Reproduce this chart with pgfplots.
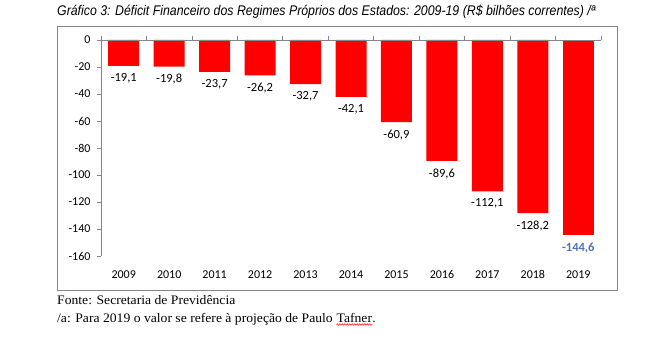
\documentclass[border=0pt]{standalone}
\usepackage{pgfplots}
\pgfplotsset{compat=1.18}
\usepackage{fontspec}
\usetikzlibrary{decorations.pathmorphing}
\setmainfont{Carlito}
\newfontfamily\arialf{Liberation Sans}
\newfontfamily\seriff{Liberation Serif}
\definecolor{axgray}{HTML}{868686}
\definecolor{lblblue}{HTML}{4F71BE}
\newcommand{\foot}[1]{\scalebox{1.05}[1]{\seriff\fontsize{13bp}{15bp}\selectfont #1}}
\begin{document}
\begin{tikzpicture}[x=1bp,y=1bp]
\path[use as bounding box, fill=white] (0,0) rectangle (649,357);
\draw[axgray, line width=0.8bp] (57,331) rectangle (617,67);
\node[anchor=west, inner sep=0] at (57,345) {\arialf\itshape\fontsize{14bp}{16bp}\selectfont\scalebox{0.88}[1]{Gráfico 3: Déficit Financeiro dos Regimes Próprios dos Estados: 2009-19 (R\$ bilhões correntes) /ª}};
\begin{axis}[at={(101bp,101bp)}, anchor=south west, scale only axis,
  width=500bp, height=216bp,
  ymin=-160, ymax=0, xmin=-0.5, xmax=10.5,
  axis x line*=bottom, axis y line*=left,
  x axis line style={draw opacity=0},
  y axis line style={axgray, line width=0.8bp},
  xtick={0,...,10},
  xticklabels={2009,2010,2011,2012,2013,2014,2015,2016,2017,2018,2019},
  xtick style={draw=none},
  ytick={-160,-140,...,0},
  ytick style={axgray, line width=0.8bp},
  tick align=outside, major tick length=4bp,
  tick label style={font=\fontsize{12bp}{13bp}\selectfont, text=black},
  /pgf/number format/assume math mode=true,
  xticklabel style={yshift=-7bp},
  yticklabel style={xshift=-3bp},
  ybar, bar width=31bp, bar shift=0pt,
  point meta=y,
  nodes near coords={\pgfmathprintnumber[fixed,precision=1,fixed zerofill,use comma,assume math mode=true]{\pgfplotspointmeta}},
  every node near coord/.append style={anchor=north, yshift=-4bp, font=\fontsize{12.5bp}{14bp}\selectfont},
  clip=false,
]
\addplot[fill=red, draw=none] coordinates {(0,-19.1) (1,-19.8) (2,-23.7) (3,-26.2) (4,-32.7) (5,-42.1) (6,-60.9) (7,-89.6) (8,-112.1) (9,-128.2)};
\addplot[fill=red, draw=none, every node near coord/.append style={text=lblblue, font=\bfseries\fontsize{12.5bp}{14bp}\selectfont}] coordinates {(10,-144.6)};
\draw[axgray, line width=0.8bp] (axis cs:-0.5,0) -- (axis cs:10.5,0);
\pgfplotsinvokeforeach{-0.5,0.5,1.5,2.5,3.5,4.5,5.5,6.5,7.5,8.5,9.5,10.5}{\draw[axgray, line width=0.8bp] (axis cs:#1,0) -- ++(0pt,4bp);}
\end{axis}
\node[anchor=base west, inner sep=0] at (57,53) {\foot{Fonte: Secretaria de Previdência}};
\node[anchor=base west, inner sep=0] (fa) at (57,35) {\foot{/a: Para 2019 o valor se refere à projeção de Paulo}};
\node[anchor=base west, inner sep=0] (fb) at ([xshift=3.5bp]fa.base east) {\foot{Tafner}};
\node[anchor=base west, inner sep=0] at (fb.base east) {\foot{.}};
\draw[red, line width=0.5bp, decorate, decoration={snake, amplitude=0.8bp, segment length=2.5bp}] ([yshift=-2.5bp]fb.base west) -- ([yshift=-2.5bp]fb.base east);
\end{tikzpicture}
\end{document}
